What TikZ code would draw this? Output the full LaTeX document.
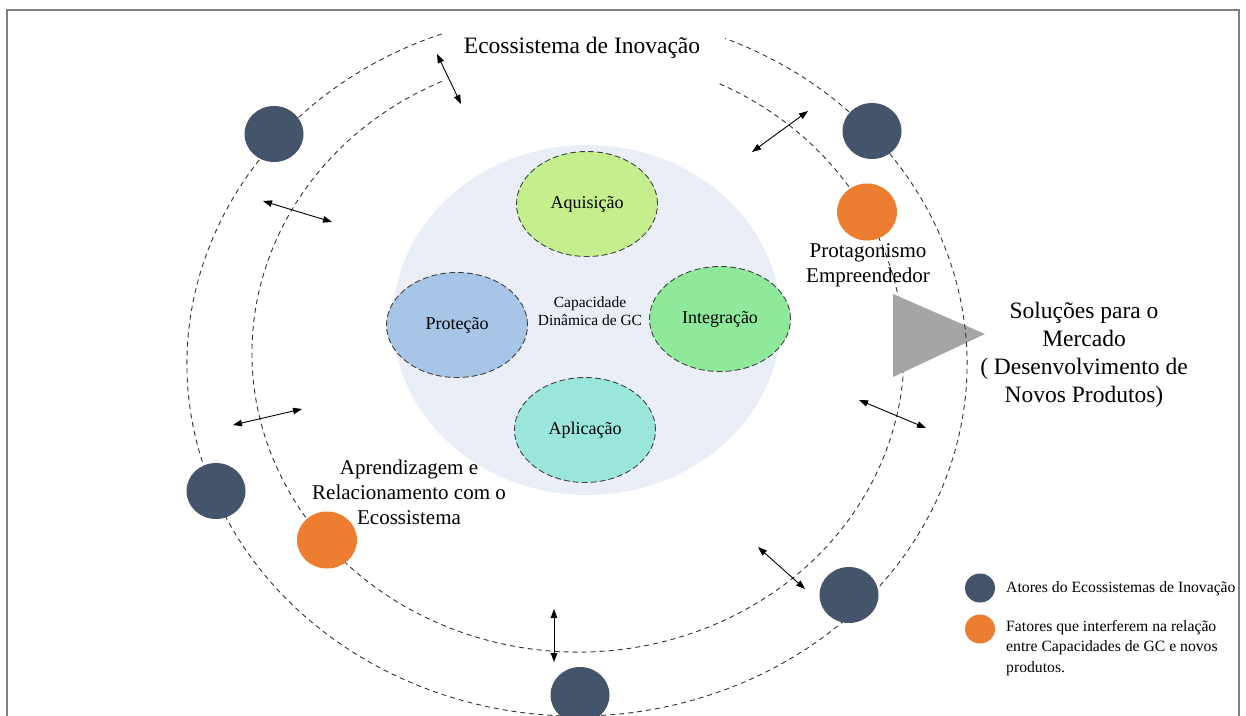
\documentclass[tikz,border=0pt]{standalone}
\usepackage{fontspec}
\setmainfont{Liberation Serif}
\usetikzlibrary{shapes.geometric,arrows.meta}
\definecolor{actor}{HTML}{44546A}
\definecolor{factor}{HTML}{ED7D31}
\definecolor{capbg}{HTML}{EAEFF7}
\definecolor{aqcol}{HTML}{C4EF8C}
\definecolor{prcol}{HTML}{A7C6E7}
\definecolor{incol}{HTML}{8EEA9A}
\definecolor{apcol}{HTML}{9BE6DA}
\definecolor{tricol}{HTML}{A5A5A5}
\definecolor{framecol}{HTML}{808080}
\begin{document}
\begin{tikzpicture}[x=1pt,y=-1pt,
  orbit/.style={draw=black!80, line width=0.9pt, dash pattern=on 5pt off 4pt},
  actorbox/.style={ellipse, fill=actor, minimum width=59pt, minimum height=56pt, inner sep=0pt},
  factorbox/.style={ellipse, fill=factor, minimum width=60pt, minimum height=57pt, inner sep=0pt},
  capbox/.style={ellipse, draw=black!75, line width=0.9pt, dash pattern=on 6pt off 3pt, minimum width=141pt, minimum height=105pt, inner sep=0pt, font=\fontsize{18}{21}\selectfont},
  link/.style={{Triangle[length=9pt,width=6.5pt]}-{Triangle[length=9pt,width=6.5pt]}, line width=0.9pt},
  bigtxt/.style={align=center, inner sep=0pt, font=\fontsize{23.5}{28}\selectfont},
  midtxt/.style={align=center, inner sep=0pt, font=\fontsize{21}{25}\selectfont},
  smalltxt/.style={align=left, inner sep=0pt, font=\fontsize{15.7}{20.5}\selectfont},
]
\useasboundingbox (0,0) rectangle (1246,715);
\begin{scope}
\clip (0,0) rectangle (1246,715);
% frame
\draw[framecol, line width=2pt] (7,10) rectangle (1239,760);
% inner orbit
\draw[orbit] (441.8,81.4) arc[start angle=114.7, end angle=424.6, x radius=326pt, y radius=299pt];
% central capability area
\node[ellipse, fill=capbg, minimum width=388pt, minimum height=350pt, inner sep=0pt] (cap) at (587,320) {};
\node[capbox, fill=aqcol] (aq) at (587,204) {Aquisição};
\node[capbox, fill=prcol] (pr) at (457,325) {Proteção};
\node[capbox, fill=incol] (in) at (720,319) {Integração};
\node[capbox, fill=apcol] (ap) at (585,430) {Aplicação};
\node[align=center, inner sep=0pt, font=\fontsize{15.5}{18.5}\selectfont] (captxt) at (590,311) {Capacidade\\Dinâmica de GC};
% triangle
\coordinate (t1) at (893,294);
\coordinate (t2) at (893,377);
\coordinate (t3) at (985,334);
\fill[tricol] (t1) -- (t3) -- (t2) -- cycle;
% outer orbit
\draw[orbit] (441.7,33.9) arc[start angle=110.3, end angle=427.7, x radius=390pt, y radius=352pt];
% actors and factors
\node[actorbox] (a1) at (274,134) {};
\node[actorbox] (a2) at (872,131) {};
\node[factorbox] (f1) at (867,212) {};
\node[actorbox] (a3) at (216,491) {};
\node[factorbox] (f2) at (327,540) {};
\node[actorbox] (a4) at (849,595) {};
\node[actorbox] (a5) at (580,695) {};
% arrows
\coordinate (r1a) at (437,54);  \coordinate (r1b) at (461,104);
\coordinate (r2a) at (752,152); \coordinate (r2b) at (808,111);
\coordinate (r3a) at (263,201); \coordinate (r3b) at (332,222);
\coordinate (r4a) at (233,425); \coordinate (r4b) at (302,409);
\coordinate (r5a) at (859,400); \coordinate (r5b) at (926,428);
\coordinate (r6a) at (758,547); \coordinate (r6b) at (805,589);
\coordinate (r7a) at (554,609); \coordinate (r7b) at (554,662);
\draw[link] (r1a) -- (r1b);
\draw[link] (r2a) -- (r2b);
\draw[link] (r3a) -- (r3b);
\draw[link] (r4a) -- (r4b);
\draw[link] (r5a) -- (r5b);
\draw[link] (r6a) -- (r6b);
\draw[link] (r7a) -- (r7b);
% texts
\node[bigtxt] (title) at (582,48) {Ecossistema de Inovação};
\node[bigtxt] (sol) at (1084,355) {Soluções para o\\Mercado\\( Desenvolvimento de\\Novos Produtos)};
\node[midtxt] (prot) at (868,265) {Protagonismo\\Empreendedor};
\node[midtxt] (apr) at (409,492) {Aprendizagem e\\Relacionamento com o\\Ecossistema};
% legend
\node[ellipse, fill=actor, minimum width=30pt, minimum height=29pt, inner sep=0pt] (lg1) at (980,588) {};
\node[ellipse, fill=factor, minimum width=30pt, minimum height=29pt, inner sep=0pt] (lg2) at (980,629) {};
\node[smalltxt, anchor=west] (lt1) at (1006,589) {Atores do Ecossistemas de Inovação};
\node[smalltxt, anchor=west] (lt2) at (1006,648) {Fatores que interferem na relação\\entre Capacidades de GC e novos\\produtos.};
\end{scope}
\end{tikzpicture}
\end{document}
